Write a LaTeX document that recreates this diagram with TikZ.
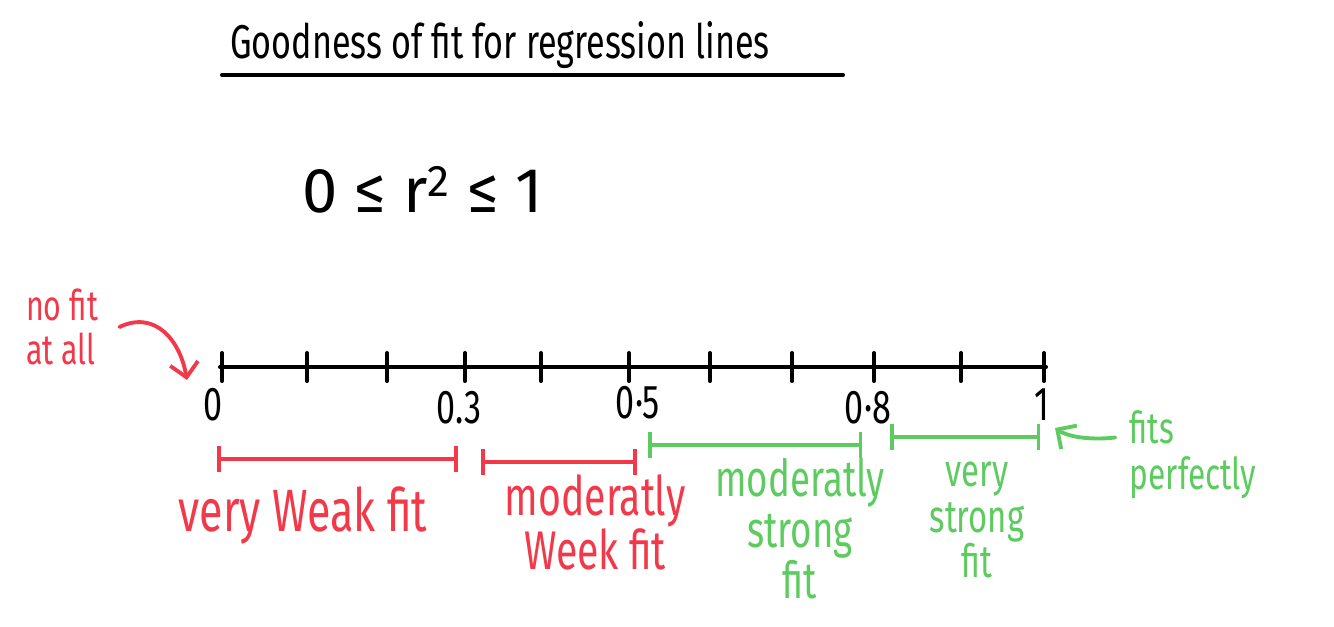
\documentclass[tikz,border=0pt]{standalone}
\usepackage{fontspec}
\setmainfont[FakeStretch=0.72]{Fira Sans}
\newfontfamily\widefont{Fira Sans}
\usetikzlibrary{arrows.meta}
\definecolor{penred}{HTML}{F2394A}
\definecolor{pengreen}{HTML}{5DCB5F}

\begin{document}
\begin{tikzpicture}[x=0.02cm, y=-0.02cm, line cap=round]
\tikzset{
  hand/.style ={font=\fontsize{31}{29}\selectfont, align=center, inner sep=0pt},
  num/.style  ={font=\fontsize{27}{28}\selectfont, inner sep=0pt},
  rlbl/.style ={hand, text=penred},
  glbl/.style ={hand, text=pengreen},
  rng/.style  ={{Bar[width=15pt]}-{Bar[width=15pt]}, line width=2pt},
  axis/.style ={line width=2.3pt},
  bent/.style ={-{Straight Barb[length=8pt,width=16pt]}, line width=2.2pt}
}
\useasboundingbox (0,0) rectangle (1334,626);

% heading
\node (title)[font=\fontsize{27}{29}\selectfont, inner sep=0pt] at (500,45) {Goodness of fit for regression lines};
\draw[line width=2.3pt] (222,75) -- (843,75);
\node (ineq)[font=\widefont\fontsize{36}{38}\selectfont, inner sep=0pt] at (423,190) {0 ≤ r\textsuperscript{2} ≤ 1};

% number line
\coordinate (ax0) at (220,367);
\coordinate (ax1) at (1046,367);
\draw[axis] (ax0) -- (ax1);
\foreach \x in {222,307,387,465,541,629,710,792,874,961,1044}
  \draw[axis] (\x,353) -- (\x,381);
\node (n0)[num] at (213,405) {0};
\node (n3)[num] at (459,408) {0.3};
\node (n5)[num] at (638,403) {0·5};
\node (n8)[num] at (868,408) {0·8};
\node (n1)[num] at (1042,405) {1};

% ranges
\coordinate (r1a) at (217,459); \coordinate (r1b) at (458,459);
\coordinate (r2a) at (481,462); \coordinate (r2b) at (637,462);
\coordinate (g1a) at (648,445); \coordinate (g1b) at (862,445);
\coordinate (g2a) at (890,437); \coordinate (g2b) at (1040,437);
\draw[rng, penred] (r1a) -- (r1b);
\draw[rng, penred] (r2a) -- (r2b);
\draw[rng, pengreen] (g1a) -- (g1b);
\draw[rng, pengreen] (g2a) -- (g2b);

\node (vw)[rlbl, font=\fontsize{34}{29}\selectfont] at (303,515) {very Weak fit};
\node (mw)[rlbl] at (595,522) {moderatly\\Week fit};
\node (ms)[glbl, font=\fontsize{29}{29}\selectfont] at (800,529) {moderatly\\strong\\fit};
\node (vs)[glbl, font=\fontsize{26}{26}\selectfont] at (977,520) {very\\strong\\fit};

% end notes
\node (nofit)[rlbl, align=left, font=\fontsize{24}{25}\selectfont] at (62,327) {no fit\\at all};
\node (fp)[glbl, align=left, font=\fontsize{25}{26}\selectfont] at (1193,455) {fits\\perfectly};
\coordinate (zarr) at (187,380);
\coordinate (oarr) at (1055,428);
\draw[bent, penred] ([xshift=12pt]nofit.east) .. controls (155,310) and (180,340) .. (zarr);
\draw[bent, pengreen] ([shift={(-8pt,10pt)}]fp.west) .. controls (1095,440) and (1070,438) .. (oarr);
\end{tikzpicture}
\end{document}
